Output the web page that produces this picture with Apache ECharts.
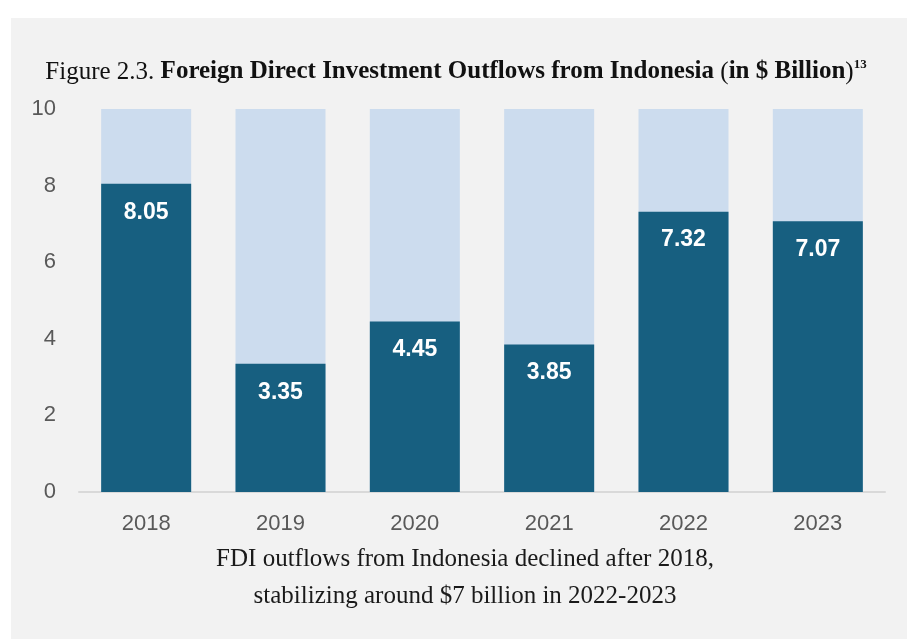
<!DOCTYPE html>
<html><head><meta charset="utf-8">
<script src="https://cdn.jsdelivr.net/npm/echarts@6/dist/echarts.min.js"></script>
<style>html,body{margin:0;padding:0;background:#fff}#c{width:907px;height:639px}</style>
</head><body><div id="c"></div>
<script>
const years = ['2018','2019','2020','2021','2022','2023'];
const outflows = [8.05, 3.35, 4.45, 3.85, 7.32, 7.07];
const yTicks = [0, 2, 4, 6, 8, 10];

const chart = echarts.init(document.getElementById('c'));
const serif = '"Liberation Serif", "DejaVu Serif", serif';
const sans = '"Liberation Sans", Arial, sans-serif';
chart.setOption({
  backgroundColor: '#ffffff',
  animation: false,
  graphic: [
    { type: 'rect', z: -10, shape: { x: 11, y: 18, width: 896, height: 621 }, style: { fill: '#f2f2f2' } },
    { type: 'text', x: 456, y: 72, style: {
        text: '{n|Figure 2.3. }{b|Foreign Direct Investment Outflows from Indonesia }{n|(}{b|in $ Billion}{n|)}{s|13}',
        align: 'center', verticalAlign: 'middle',
        rich: {
          n: { fontFamily: serif, fontSize: 25, fill: '#111', lineHeight: 28 },
          b: { fontFamily: serif, fontSize: 25, fontWeight: 'bold', fill: '#111', lineHeight: 28 },
          s: { fontFamily: serif, fontSize: 13, fontWeight: 'bold', fill: '#111', lineHeight: 28, padding: [0,0,14,0] }
        }
    }},
    { type: 'text', x: 465, y: 578, style: {
        text: 'FDI outflows from Indonesia declined after 2018,\nstabilizing around $7 billion in 2022-2023',
        fontFamily: serif, fontSize: 25, fill: '#1a1a1a', align: 'center', verticalAlign: 'middle', lineHeight: 37
    }}
  ],
  grid: { left: 79, right: 22, top: 109, bottom: 147, containLabel: false },
  xAxis: {
    type: 'category', data: years,
    axisLine: { lineStyle: { color: '#d9d9d9', width: 2 } },
    axisTick: { show: false },
    axisLabel: { color: '#595959', fontFamily: sans, fontSize: 22, margin: 21 }
  },
  yAxis: {
    type: 'value', min: 0, max: 10, interval: 2,
    axisLine: { show: false }, axisTick: { show: false },
    splitLine: { show: false },
    axisLabel: { color: '#595959', fontFamily: sans, fontSize: 22, margin: 23,
      formatter: v => yTicks.includes(v) ? String(v) : '' }
  },
  series: [{
    type: 'bar', data: outflows, barWidth: '67%',
    itemStyle: { color: '#175f80' },
    showBackground: true,
    backgroundStyle: { color: '#ccdcee' },
    label: { show: true, position: 'insideTop', distance: 17, color: '#ffffff',
      fontFamily: sans, fontWeight: 'bold', fontSize: 23, formatter: p => p.value.toFixed(2) }
  }]
});
</script></body></html>
